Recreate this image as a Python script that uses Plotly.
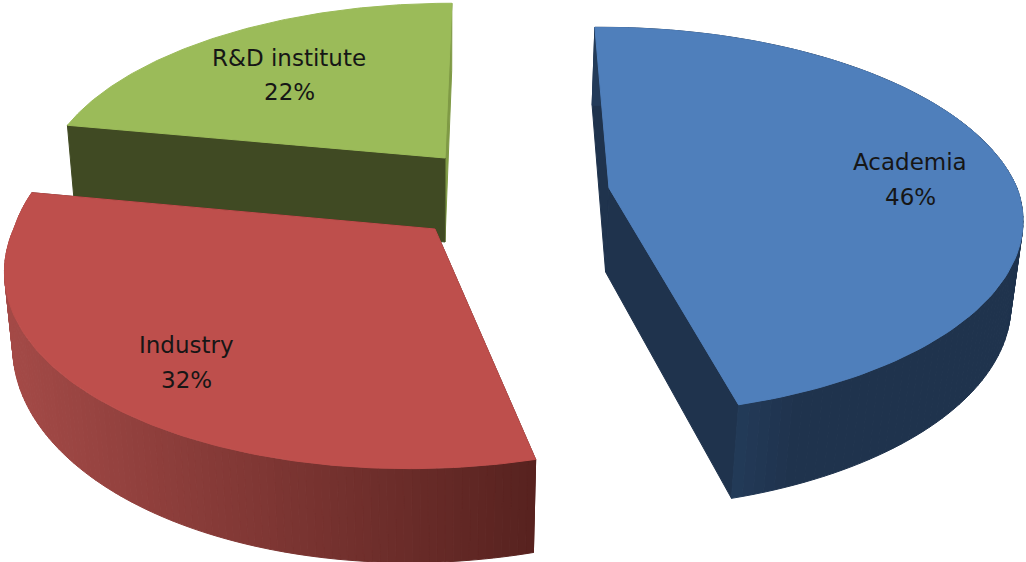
import numpy as np
import plotly.graph_objects as go

# --- data
categories = ["Academia", "Industry", "R&D institute"]
values = [46, 32, 22]

# --- styling / projection of the exploded 3D pie (top-face apex in pixels)
top_colors = ["#4f7fbb", "#be4f4c", "#9bbb59"]
wall_left = ["#233b59", "#a44a47", "#404a23"]
wall_right = ["#1f334d", "#57221f", "#404a23"]
radial_start_colors = ["#1f334d", "#57221f", "#404a23"]
radial_end_colors = ["#1f334d", "#57221f", "#7f9a45"]
apex_x = [609, 435, 445]
apex_y = [188, 229, 158]
semi_x = [408, 420, 396]
semi_y = [188, 202, 179]
persp = [0.17, 0.157, 0.157]
shear_back = [0.05, 0.0, -0.083]
shear_front = [0.0, -0.134, 0.0]
shear_y = [0.0, 0.007, 0.008]
depth_back = [78, 60, 67]
depth_front = [94, 94, 94]
depth_apex = [84, 84, 84]
vanish = (442, 4315)
start_angle = -1.0
label_x = [910, 186, 289]
label_y_name = [162, 345, 58]
label_y_pct = [197, 380, 92]
label_pct = ["46%", "32%", "22%"]


def project(i, theta):
    t = np.radians(theta)
    den = 1 + persp[i] * np.cos(t)
    x = semi_x[i] * np.sin(t) / den
    y = -semi_y[i] * np.cos(t) / den
    s = np.where(y < 0, shear_back[i], shear_front[i])
    return apex_x[i] + x + s * y, apex_y[i] + y + shear_y[i] * x


def drop(x, y, d):
    return x + (vanish[0] - x) * d / (vanish[1] - y), y + d


def hexrgb(c):
    return np.array([int(c[j:j + 2], 16) for j in (1, 3, 5)], float)


def mix(a, b, f):
    v = hexrgb(a) * (1 - f) + hexrgb(b) * f
    return "rgb(%d,%d,%d)" % tuple(v.round())


fig = go.Figure()


def poly(xs, ys, color):
    fig.add_trace(go.Scatter(x=list(xs), y=list(ys), mode="lines", fill="toself",
                             fillcolor=color, line=dict(color=color, width=1),
                             hoverinfo="skip", showlegend=False))


angles = np.concatenate([[0], np.cumsum(values)]) * 3.6 + start_angle
order = [2, 0, 1]  # back to front
for i in order:
    th = np.linspace(angles[i], angles[i + 1], 121)
    x, y = project(i, th)
    d = depth_back[i] + (depth_front[i] - depth_back[i]) * ((1 - np.cos(np.radians(th))) / 2) ** 1.5
    bx, by = drop(x, y, d)
    ax0, ay0 = apex_x[i], apex_y[i]
    abx, aby = drop(ax0, ay0, depth_apex[i])
    # radial walls: the lighter end wall of the back slice goes underneath
    walls = [(0, radial_start_colors[i]), (-1, radial_end_colors[i])]
    if i == 2:
        walls.reverse()
    for k, col in walls:
        poly([x[k], ax0, abx, bx[k], x[k]], [y[k], ay0, aby, by[k], y[k]], col)
    # outer wall, in strips for the horizontal gradient
    if i != 2:
        lo, hi = x.min(), x.max()
        for j in range(len(th) - 1):
            mid = (x[j] + x[j + 1]) / 2
            f = (mid - lo) / (hi - lo) if i == 1 else min(1, max(0, (mid - 735) / 60))
            poly([x[j], x[j + 1], bx[j + 1], bx[j], x[j]],
                 [y[j], y[j + 1], by[j + 1], by[j], y[j]], mix(wall_left[i], wall_right[i], f))
    # top face
    poly(list(x) + [ax0, x[0]], list(y) + [ay0, y[0]], top_colors[i])

for i, name in enumerate(categories):
    for text, ypos in ((name, label_y_name[i]), (label_pct[i], label_y_pct[i])):
        fig.add_annotation(x=label_x[i], y=ypos, text=text,
                           showarrow=False, xanchor="center", yanchor="middle",
                           font=dict(family="DejaVu Sans", size=23, color="#161616"))

fig.update_layout(width=1026, height=562, margin=dict(l=0, r=0, t=0, b=0),
                  paper_bgcolor="white", plot_bgcolor="white", showlegend=False,
                  xaxis=dict(range=[0, 1026], visible=False, fixedrange=True),
                  yaxis=dict(range=[562, 0], visible=False, fixedrange=True))
fig.write_html("out.html", config={"displayModeBar": False},
               post_script="document.body.style.margin='0';document.body.style.overflow='hidden';")
